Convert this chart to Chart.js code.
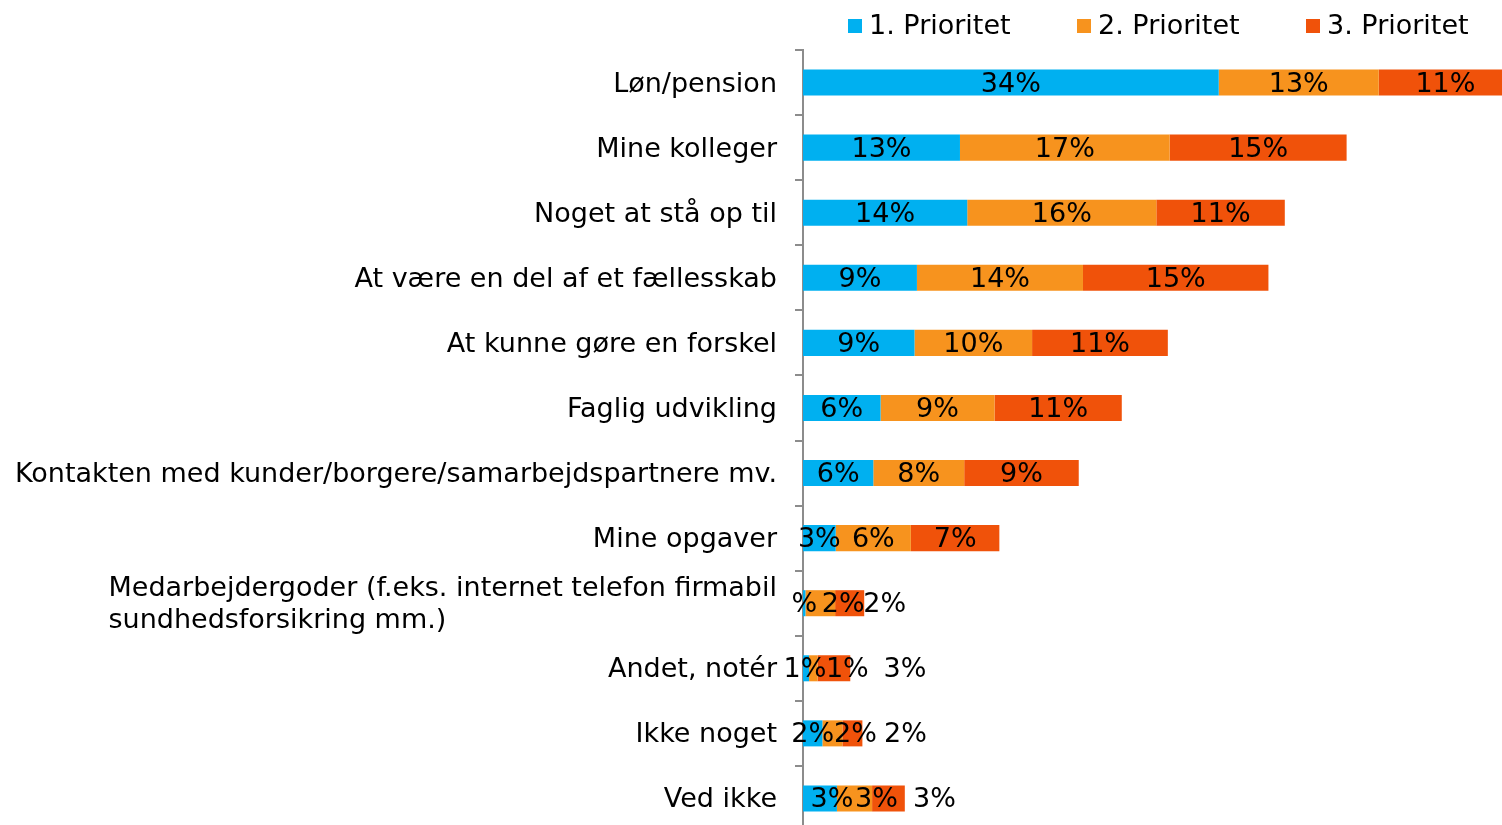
<!DOCTYPE html>
<html>
<head>
<meta charset="utf-8">
<script src="https://cdn.jsdelivr.net/npm/chart.js@4"></script>
<style>
  html, body { margin: 0; padding: 0; background: #fff; overflow: hidden; }
  #wrap { width: 1502px; height: 831px; position: relative; }
</style>
</head>
<body>
<div id="wrap"><canvas id="chart"></canvas></div>
<script>
const categories = [
    'Løn/pension',
    'Mine kolleger',
    'Noget at stå op til',
    'At være en del af et fællesskab',
    'At kunne gøre en forskel',
    'Faglig udvikling',
    'Kontakten med kunder/borgere/samarbejdspartnere mv.',
    'Mine opgaver',
    ['Medarbejdergoder (f.eks. internet telefon firmabil', 'sundhedsforsikring mm.)'],
    'Andet, notér',
    'Ikke noget',
    'Ved ikke'
]
const seriesNames = ['1. Prioritet', '2. Prioritet', '3. Prioritet']

const prio1 = [34.3, 12.95, 13.55, 9.4, 9.2, 6.4, 5.8, 2.7, 0.2, 0.5, 1.6, 2.8]
const prio2 = [13.2, 17.3, 15.6, 13.7, 9.7, 9.4, 7.5, 6.2, 2.45, 0.7, 1.65, 2.9]
const prio3 = [11.0, 14.6, 10.6, 15.3, 11.2, 10.5, 9.45, 7.3, 2.4, 2.7, 1.65, 2.7]

// label texts as printed in the chart
const labels1 = ['34%', '13%', '14%', '9%', '9%', '6%', '6%', '3%', '%', '1%', '2%', '3%']
const labels2 = ['13%', '17%', '16%', '14%', '10%', '9%', '8%', '6%', '2%', '1%', '2%', '3%']
const labels3 = ['11%', '15%', '11%', '15%', '11%', '11%', '9%', '7%', '2%', '3%', '2%', '3%']

// horizontal nudges (px) for labels that were moved off small segments
const labelNudge = [
    [0, 0, 0, 0, 0, 0, 0, 0, 0, -1, 0, 12],
    [0, 0, 0, 0, 0, 0, 0, 0, 23, 34, 23, 22],
    [0, 0, 0, 0, 0, 0, 0, 0, 35, 71, 53, 46]
]

const colors = ['#00B0F0', '#F7931E', '#F0520A']
const FONT = '27px "DejaVu Sans", Verdana, sans-serif'

const customDraw = {
    id: 'customDraw',
    afterDatasetsDraw(chart) {
        const ctx = chart.ctx
        const texts = [labels1, labels2, labels3]
        ctx.save()
        ctx.font = FONT
        ctx.fillStyle = '#000'
        ctx.textAlign = 'center'
        ctx.textBaseline = 'middle'
        chart.data.datasets.forEach((ds, di) => {
            const meta = chart.getDatasetMeta(di)
            meta.data.forEach((bar, i) => {
                const cx = (bar.x + bar.base) / 2 + labelNudge[di][i]
                ctx.fillText(texts[di][i], cx, bar.y + 2)
            })
        })
        ctx.restore()
    },
    afterDraw(chart) {
        const ctx = chart.ctx
        const y = chart.scales.y
        const right = chart.chartArea.left - 26
        ctx.save()
        ctx.font = FONT
        ctx.fillStyle = '#000'
        ctx.textBaseline = 'middle'
        categories.forEach((c, i) => {
            const py = y.getPixelForValue(i) + 2
            if (Array.isArray(c)) {
                const w = Math.max(...c.map(t => ctx.measureText(t).width))
                ctx.textAlign = 'left'
                const lh = 32
                c.forEach((t, k) => {
                    ctx.fillText(t, right - w, py + (k - (c.length - 1) / 2) * lh)
                })
            } else {
                ctx.textAlign = 'right'
                ctx.fillText(c, right, py)
            }
        })

        // legend
        let lx = 848
        chart.data.datasets.forEach((ds) => {
            ctx.fillStyle = ds.backgroundColor
            ctx.fillRect(lx, 19, 14, 14)
            ctx.fillStyle = '#000'
            ctx.textAlign = 'left'
            ctx.fillText(ds.label, lx + 21, 27)
            lx += 229
        })
        ctx.restore()
    }
}

const chart = new Chart(document.getElementById('chart'), {
    type: 'bar',
    plugins: [customDraw],
    data: {
        labels: categories,
        datasets: [
            { label: seriesNames[0], data: prio1, backgroundColor: colors[0] },
            { label: seriesNames[1], data: prio2, backgroundColor: colors[1] },
            { label: seriesNames[2], data: prio3, backgroundColor: colors[2] }
        ]
    },
    options: {
        indexAxis: 'y',
        responsive: true,
        maintainAspectRatio: false,
        animation: false,
        layout: { padding: { top: 50, right: 0, bottom: 0, left: 0 } },
        datasets: {
            bar: { categoryPercentage: 1, barPercentage: 0.4, borderWidth: 0 }
        },
        scales: {
            x: {
                stacked: true,
                display: false,
                min: 0,
                max: 57.67
            },
            y: {
                stacked: true,
                afterFit(scale) { scale.width = 803 },
                ticks: { display: false },
                grid: {
                    display: true,
                    offset: true,
                    drawOnChartArea: false,
                    drawTicks: true,
                    tickLength: 8,
                    color: '#8C8C8C',
                    lineWidth: 2
                },
                border: { display: true, color: '#8C8C8C', width: 2 }
            }
        },
        plugins: {
            legend: { display: false },
            tooltip: { enabled: false }
        }
    }
})
</script>
</body>
</html>
